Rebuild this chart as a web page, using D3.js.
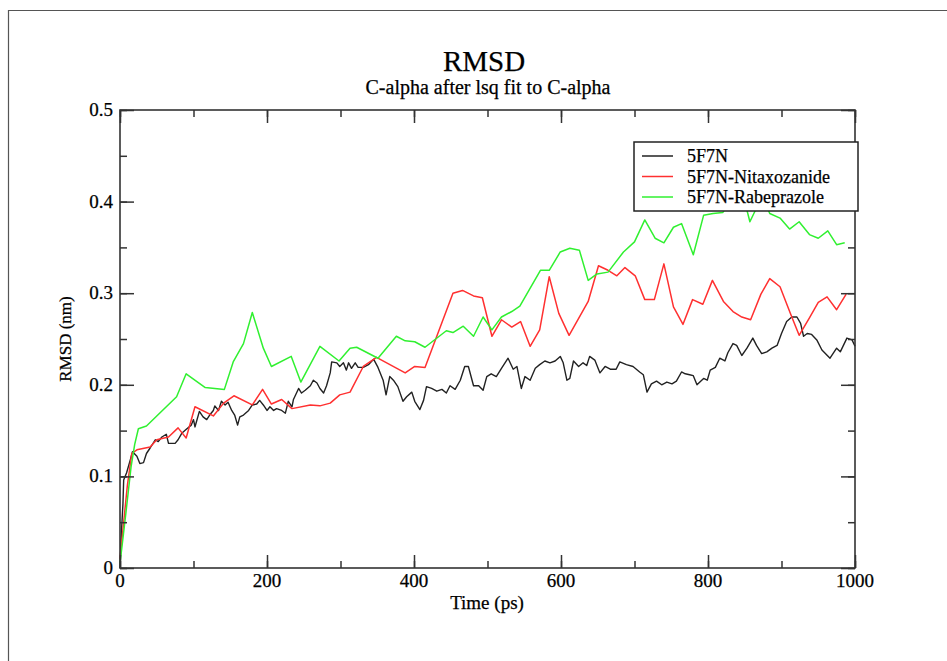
<!DOCTYPE html>
<html>
<head>
<meta charset="utf-8">
<script src="https://cdn.jsdelivr.net/npm/d3@7"></script>
<style>
  body { margin: 0; background: #fff; }
  svg { display: block; }
  text { font-family: "Liberation Serif", "Times New Roman", serif; fill: #000; stroke: #000; stroke-width: 0.25px; }
</style>
</head>
<body>
<svg id="chart" width="947" height="661"></svg>
<script>
(function() {

  var seriesNames = ['5F7N', '5F7N-Nitaxozanide', '5F7N-Rabeprazole'];
  var seriesColors = ['#222222', '#ff3030', '#30f030'];

  var xTicks = [0, 200, 400, 600, 800, 1000];
  var yTicks = [0, 0.1, 0.2, 0.3, 0.4, 0.5];
  var yTickLabels = ['0', '0.1', '0.2', '0.3', '0.4', '0.5'];

  // [time (ps), rmsd (nm)]
  var apo = [
    [0, 0.0], [2, 0.04], [4, 0.07], [5, 0.096], [9, 0.104], [14, 0.118], [17, 0.127],
    [23, 0.122], [27, 0.114], [32, 0.115], [36, 0.125], [41, 0.131], [48, 0.140],
    [52, 0.138], [57, 0.143], [63, 0.146], [66, 0.136], [75, 0.136], [79, 0.140],
    [84, 0.147], [91, 0.152], [97, 0.156], [100, 0.162], [102, 0.154], [108, 0.171],
    [113, 0.165], [118, 0.162], [122, 0.167], [127, 0.172], [129, 0.177], [134, 0.172],
    [138, 0.182], [143, 0.178], [147, 0.181], [152, 0.172], [156, 0.167], [160, 0.156],
    [163, 0.165], [168, 0.167], [175, 0.172], [180, 0.178], [186, 0.179], [190, 0.183],
    [195, 0.178], [200, 0.172], [204, 0.176], [209, 0.172], [213, 0.174], [220, 0.172],
    [225, 0.169], [229, 0.182], [234, 0.176], [236, 0.184], [243, 0.196], [247, 0.191],
    [252, 0.194], [259, 0.199], [263, 0.205], [268, 0.202], [272, 0.196], [277, 0.191],
    [281, 0.199], [286, 0.213], [288, 0.225], [295, 0.224], [299, 0.220], [304, 0.224],
    [308, 0.216], [311, 0.224], [315, 0.218], [320, 0.224], [324, 0.219], [331, 0.219],
    [338, 0.222], [345, 0.228], [351, 0.219], [358, 0.205], [362, 0.189], [367, 0.209],
    [372, 0.205], [378, 0.198], [385, 0.182], [390, 0.187], [397, 0.192], [401, 0.182],
    [408, 0.173], [413, 0.183], [417, 0.198], [424, 0.196], [431, 0.193], [438, 0.195],
    [444, 0.191], [449, 0.199], [456, 0.195], [463, 0.205], [469, 0.220], [474, 0.220],
    [481, 0.199], [488, 0.199], [494, 0.194], [499, 0.209], [505, 0.212], [512, 0.209],
    [519, 0.218], [528, 0.229], [535, 0.217], [540, 0.220], [546, 0.196], [551, 0.209],
    [558, 0.205], [565, 0.218], [571, 0.222], [578, 0.226], [585, 0.224], [592, 0.226],
    [599, 0.231], [603, 0.224], [608, 0.205], [612, 0.207], [617, 0.226], [624, 0.220],
    [630, 0.224], [635, 0.221], [639, 0.231], [646, 0.227], [653, 0.213], [660, 0.220],
    [667, 0.217], [675, 0.217], [680, 0.225], [689, 0.222], [698, 0.220], [707, 0.214],
    [712, 0.211], [717, 0.192], [723, 0.201], [730, 0.204], [737, 0.200], [744, 0.203],
    [751, 0.201], [757, 0.204], [764, 0.214], [769, 0.212], [775, 0.211], [780, 0.210],
    [785, 0.200], [794, 0.207], [799, 0.205], [803, 0.216], [810, 0.219], [816, 0.229],
    [823, 0.226], [827, 0.235], [834, 0.245], [839, 0.243], [846, 0.232], [853, 0.240],
    [861, 0.251], [866, 0.243], [873, 0.234], [880, 0.236], [887, 0.240], [894, 0.243],
    [900, 0.256], [907, 0.269], [914, 0.274], [921, 0.274], [926, 0.267], [930, 0.253],
    [935, 0.256], [941, 0.255], [948, 0.249], [955, 0.238], [966, 0.229], [975, 0.240],
    [980, 0.236], [989, 0.251], [996, 0.249], [1000, 0.242]
  ];

  var nitaxozanide = [
    [0, 0.01], [5, 0.05], [10, 0.09], [16, 0.125], [23, 0.129], [41, 0.132], [50, 0.140],
    [66, 0.143], [79, 0.153], [90, 0.142], [102, 0.176], [127, 0.166], [141, 0.180],
    [155, 0.188], [180, 0.178], [194, 0.195], [206, 0.179], [220, 0.184], [234, 0.174],
    [259, 0.178], [272, 0.177], [286, 0.180], [299, 0.189], [313, 0.192], [331, 0.220],
    [349, 0.230], [388, 0.213], [401, 0.220], [415, 0.219], [453, 0.300], [466, 0.303],
    [481, 0.297], [493, 0.295], [506, 0.253], [519, 0.271], [533, 0.263], [545, 0.269],
    [558, 0.242], [571, 0.260], [584, 0.318], [597, 0.278], [611, 0.254], [637, 0.291],
    [651, 0.330], [664, 0.325], [676, 0.319], [687, 0.328], [701, 0.319], [714, 0.293],
    [727, 0.293], [740, 0.332], [753, 0.285], [766, 0.266], [779, 0.293], [793, 0.288],
    [806, 0.314], [821, 0.291], [834, 0.280], [846, 0.274], [858, 0.271], [872, 0.299],
    [884, 0.316], [898, 0.307], [912, 0.278], [924, 0.254], [938, 0.273], [950, 0.290],
    [962, 0.296], [975, 0.282], [988, 0.299]
  ];

  var rabeprazole = [
    [0, 0.005], [8, 0.06], [15, 0.11], [20, 0.135], [25, 0.152], [36, 0.155], [77, 0.187],
    [90, 0.212], [116, 0.197], [142, 0.195], [154, 0.225], [168, 0.245], [180, 0.279],
    [195, 0.240], [206, 0.220], [233, 0.231], [246, 0.203], [272, 0.242], [298, 0.226],
    [313, 0.240], [322, 0.241], [351, 0.229], [376, 0.253], [388, 0.248], [401, 0.247],
    [415, 0.241], [444, 0.259], [453, 0.257], [467, 0.264], [481, 0.253], [494, 0.274],
    [506, 0.260], [519, 0.274], [533, 0.280], [544, 0.286], [572, 0.325], [584, 0.325],
    [599, 0.345], [612, 0.349], [625, 0.347], [637, 0.314], [649, 0.321], [664, 0.323],
    [685, 0.345], [700, 0.356], [714, 0.380], [728, 0.360], [740, 0.355], [753, 0.372],
    [764, 0.376], [780, 0.342], [794, 0.385], [807, 0.387], [820, 0.388], [835, 0.405],
    [850, 0.400], [857, 0.378], [866, 0.393], [875, 0.405], [884, 0.387], [898, 0.382],
    [911, 0.370], [924, 0.378], [938, 0.364], [950, 0.360], [963, 0.368], [975, 0.353],
    [986, 0.355]
  ];

  var allSeries = [apo, nitaxozanide, rabeprazole];

  var svg = d3.select('#chart');
  var left = 120, right = 855, top = 110, bottom = 568;

  var x = d3.scaleLinear().domain([0, 1000]).range([left, right]);
  var y = d3.scaleLinear().domain([0, 0.5]).range([bottom, top]);

  // page frame
  svg.append('path')
      .attr('d', 'M8.5,661V10.5H947')
      .attr('fill', 'none')
      .attr('stroke', '#555')
      .attr('stroke-width', 1.2);

  // data lines
  var line = d3.line()
      .x(function(d) { return x(d[0]); })
      .y(function(d) { return y(d[1]); });

  svg.append('g').selectAll('path')
      .data(allSeries)
    .enter().append('path')
      .attr('d', line)
      .attr('fill', 'none')
      .attr('stroke', function(d, i) { return seriesColors[i]; })
      .attr('stroke-width', function(d, i) { return i === 0 ? 1.4 : 1.5; })
      .attr('stroke-linejoin', 'round');

  // axes: ticks inward, mirrored on opposite side
  var xMinor = d3.range(0, 1001, 100);
  var yMinor = d3.range(0, 0.501, 0.05);

  function tickAxis(axisFn, scale, values, len) {
    return axisFn(scale).tickValues(values).tickSize(len).tickFormat('');
  }

  var axisColor = '#333';
  var groups = [
    [d3.axisTop, x, xMinor, 7, 'translate(0,' + bottom + ')'],
    [d3.axisTop, x, xTicks, 13, 'translate(0,' + bottom + ')'],
    [d3.axisBottom, x, xMinor, 7, 'translate(0,' + top + ')'],
    [d3.axisBottom, x, xTicks, 13, 'translate(0,' + top + ')'],
    [d3.axisRight, y, yMinor, 7, 'translate(' + left + ',0)'],
    [d3.axisRight, y, yTicks, 14, 'translate(' + left + ',0)'],
    [d3.axisLeft, y, yMinor, 7, 'translate(' + right + ',0)'],
    [d3.axisLeft, y, yTicks, 14, 'translate(' + right + ',0)']
  ];

  groups.forEach(function(g) {
    var a = svg.append('g')
        .attr('transform', g[4])
        .call(tickAxis(g[0], g[1], g[2], g[3]).tickSizeOuter(0));
    a.select('.domain').remove();
    a.selectAll('line').attr('stroke', axisColor).attr('stroke-width', 1.5);
  });

  svg.append('rect')
      .attr('x', left).attr('y', top)
      .attr('width', right - left).attr('height', bottom - top)
      .attr('fill', 'none')
      .attr('stroke', axisColor)
      .attr('stroke-width', 1.6);

  // tick labels
  svg.append('g').selectAll('text')
      .data(xTicks)
    .enter().append('text')
      .attr('x', function(d) { return x(d); })
      .attr('y', bottom + 19)
      .attr('text-anchor', 'middle')
      .style('font-size', '19px')
      .text(function(d) { return d; });

  svg.append('g').selectAll('text')
      .data(yTicks)
    .enter().append('text')
      .attr('x', left - 7)
      .attr('y', function(d) { return y(d) + 6; })
      .attr('text-anchor', 'end')
      .style('font-size', '19px')
      .text(function(d, i) { return yTickLabels[i]; });

  // titles
  svg.append('text')
      .attr('x', 484).attr('y', 71)
      .attr('text-anchor', 'middle')
      .style('font-size', '29px')
      .text('RMSD');

  svg.append('text')
      .attr('x', 488).attr('y', 94)
      .attr('text-anchor', 'middle')
      .style('font-size', '20px')
      .text('C-alpha after lsq fit to C-alpha');

  svg.append('text')
      .attr('x', 487).attr('y', 609)
      .attr('text-anchor', 'middle')
      .style('font-size', '19px')
      .text('Time (ps)');

  svg.append('text')
      .attr('transform', 'translate(71,' + ((top + bottom) / 2) + ') rotate(-90)')
      .attr('text-anchor', 'middle')
      .style('font-size', '17px')
      .text('RMSD (nm)');

  // legend
  var legend = svg.append('g').attr('transform', 'translate(634,142)');
  legend.append('rect')
      .attr('width', 224).attr('height', 69)
      .attr('fill', '#fff')
      .attr('stroke', '#222')
      .attr('stroke-width', 1.5);

  var rows = legend.selectAll('g.row')
      .data(seriesNames)
    .enter().append('g')
      .attr('class', 'row')
      .attr('transform', function(d, i) { return 'translate(0,' + (14 + i * 20.5) + ')'; });

  rows.append('line')
      .attr('x1', 8).attr('x2', 39)
      .attr('stroke', function(d, i) { return seriesColors[i]; })
      .attr('stroke-width', 1.5);

  rows.append('text')
      .attr('x', 53).attr('y', 6)
      .style('font-size', '18px')
      .text(function(d) { return d; });

})();
</script>
</body>
</html>
